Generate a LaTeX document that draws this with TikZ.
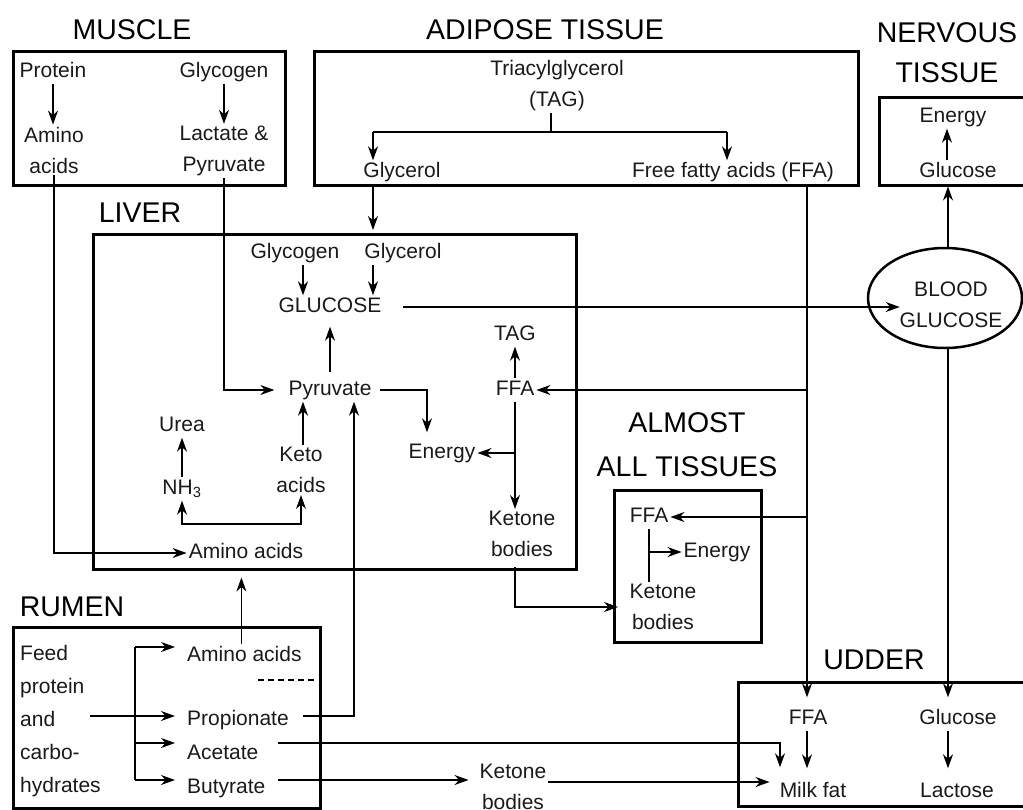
\documentclass[tikz,border=0pt]{standalone}
\usepackage{fontspec}
\setmainfont{Liberation Sans}
\usetikzlibrary{positioning,arrows.meta,calc,shapes.geometric}
\definecolor{ink}{HTML}{1A1A1A}
\tikzset{
  lbl/.style={font=\fontsize{21}{31}\selectfont, text=ink, inner sep=2pt, text height=15pt, text depth=4pt},
  lbl2/.style={font=\fontsize{21}{31}\selectfont, text=ink, inner sep=2pt, align=center},
  ttl/.style={font=\fontsize{28.5}{40}\selectfont, inner sep=0pt, align=center},
  box/.style={draw, line width=2.5pt, inner sep=0pt, anchor=north west},
  arr/.style={-{Stealth[length=14pt,width=10pt,inset=4.5pt]}, line width=1.2pt},
  arrs/.style={{Stealth[length=14pt,width=10pt,inset=4.5pt]}-{Stealth[length=14pt,width=10pt,inset=4.5pt]}, line width=1.2pt},
  ln/.style={line width=1.2pt}
}

\begin{document}
\begin{tikzpicture}[x=1pt,y=-1pt]
\useasboundingbox (0,0) rectangle (1023,809);

% titles
\node[ttl] (tMus) at (132,30) {MUSCLE};
\node[ttl] (tAdi) at (545,30) {ADIPOSE TISSUE};
\node[ttl] (tNer) at (947,53) {NERVOUS\\TISSUE};
\node[ttl] (tLiv) at (140,213) {LIVER};
\node[ttl] (tAlm) at (687,445) {ALMOST\\[4pt]ALL TISSUES};
\node[ttl] (tRum) at (72,607) {RUMEN};
\node[ttl] (tUdd) at (874,660) {UDDER};

% boxes
\node[box, minimum width=272pt, minimum height=134pt] (muscle) at (12,50) {};
\node[box, minimum width=544pt, minimum height=134pt] (adipose) at (313,50) {};
\node[box, minimum width=160pt, minimum height=88pt] (nervous) at (878,96) {};
\node[box, minimum width=483pt, minimum height=335pt] (liver) at (92,233) {};
\node[box, minimum width=147pt, minimum height=152pt] (almost) at (613,489) {};
\node[box, minimum width=307pt, minimum height=181pt] (rumen) at (12,626) {};
\node[box, minimum width=300pt, minimum height=124pt] (udder) at (737,681) {};
\node[draw, ellipse, line width=2.5pt, minimum width=154pt, minimum height=100pt] (blood) at (945,298) {};
\node[lbl2] (bloodT) at (951,305) {BLOOD\\GLUCOSE};
\coordinate (bx) at (948,298);

% muscle
\node[lbl] (mProt) at (53,72) {Protein};
\node[lbl2] (mAmino) at (54,150) {Amino\\acids};
\node[lbl] (mGlyc) at (224,72) {Glycogen};
\node[lbl2] (mLact) at (224,151) {Lactate \&\\Pyruvate};

% adipose tissue
\node[lbl2] (aTAG) at (557,86) {Triacylglycerol\\(TAG)};
\node[lbl] (aGly) at (402,172) {Glycerol};
\node[lbl] (aFFA) at (733,172) {Free fatty acids (FFA)};
\coordinate (split) at (551,132);
\coordinate (sl) at (373,132);
\coordinate (sr) at (727,132);
\coordinate (fv) at (807,184);

% nervous tissue
\node[lbl] (nEn) at (953,117) {Energy};
\node[lbl] (nGlu) at (958,172) {Glucose};

% liver
\node[lbl] (lGlyc) at (295,253) {Glycogen};
\node[lbl] (lGly) at (403,253) {Glycerol};
\node[lbl] (lGlu) at (330,307) {GLUCOSE};
\node[lbl] (lPyr) at (330,390) {Pyruvate};
\node[lbl] (lTAG) at (515,335) {TAG};
\node[lbl] (lFFA) at (515,390) {FFA};
\node[lbl] (lEn) at (442,453) {Energy};
\node[lbl2] (lKet) at (522,534) {Ketone\\bodies};
\node[lbl] (lUrea) at (182,426) {Urea};
\node[lbl] (lNH) at (182,489) {NH\textsubscript{3}};
\node[lbl2] (lKeto) at (301,470) {Keto\\acids};
\node[lbl] (lAmino) at (246,553) {Amino acids};
\coordinate (brk) at (240,524);

% almost all tissues
\node[lbl] (alFFA) at (649,517) {FFA};
\node[lbl] (alEn) at (717,552) {Energy};
\node[lbl2] (alKet) at (663,607) {Ketone\\bodies};

% udder
\node[lbl] (uFFA) at (808,719) {FFA};
\node[lbl] (uGlu) at (958,719) {Glucose};
\node[lbl] (uMilk) at (813,792) {Milk fat};
\node[lbl] (uLac) at (957,792) {Lactose};

% rumen
\node[lbl2, align=left, anchor=west, font=\fontsize{21}{33}\selectfont] (rFeed) at (18,721) {Feed\\protein\\and\\carbo-\\hydrates};
\node[lbl, anchor=west] (rAmino) at (185,656) {Amino acids};
\node[lbl, anchor=west] (rProp) at (185,720) {Propionate};
\node[lbl, anchor=west] (rAce) at (185,754) {Acetate};
\node[lbl, anchor=west] (rBut) at (185,788) {Butyrate};
\node[lbl2] (fKet) at (513,787) {Ketone\\bodies};
\coordinate (tr1) at (135,647);
\coordinate (tr3) at (135,743);
\coordinate (tr4) at (135,780);
\coordinate (fp) at (90,716);

% connectors
\draw[arr] (mProt) -- (mAmino.north -| mProt);
\draw[arr] (mGlyc) -- (mLact);
\draw[arr] (mAmino.south) |- (lAmino.west);
\draw[arr, shorten >=12pt] (mLact.south) |- (lPyr.west);

\draw[ln] (aTAG.south -| split) -- (split);
\draw[ln] (sl) -- (sr);
\draw[arr] (sl) -- (sl |- aGly.north);
\draw[arr] (sr) -- (sr |- aFFA.north);
\draw[arr, shorten >=3pt] (sl |- aGly.south) -- (sl |- liver.north);

\draw[arr] ($(lGlyc.south)+(8pt,0)$) coordinate (g1) -- (g1 |- lGlu.north);
\draw[arr] (sl |- lGly.south) -- (sl |- lGlu.north);
\draw[arr, shorten <=19pt] (lGlu.east) -- ($(lGlu.east -| blood.west)+(33pt,0)$);
\draw[arr, shorten <=6pt, shorten >=8pt] (lPyr) -- (lGlu);
\draw[arr, shorten <=6pt, shorten >=9pt] (lPyr.east) -| ($(lEn.north)+(-15pt,0)$);
\draw[arr] (lFFA) -- (lTAG);
\draw[arr] (lFFA.south) -- (lFFA.south |- lKet.north);
\draw[arr] (lFFA.south |- lEn) -- (lEn);
\draw[arr] (lNH) -- (lUrea);
\draw[arr] ($(lKeto.north)+(2pt,0)$) coordinate (k1) -- (k1 |- lPyr.south);
\draw[arrs] (lNH.south) |- (brk) -| (lKeto.south);
\draw[arr, shorten <=8pt] ($(lKet.south)+(-7pt,0)$) |- ($(alKet.west -| almost.west)+(5pt,0)$);

\draw[arr, shorten >=10pt] (fv) -- (fv |- uFFA.north);
\draw[arr] (fv |- lFFA) -- (lFFA);
\draw[arr] (fv |- alFFA) -- (alFFA);

\draw[arr] ($(nGlu.north)+(-11pt,0)$) coordinate (n1) -- (n1 |- nEn.south);
\draw[arr] (bx |- blood.north) -- (bx |- nervous.south);
\draw[arr, shorten >=10pt] (bx |- blood.south) -- (bx |- uGlu.north);
\draw[arr, shorten >=12pt] (bx |- uGlu.south) -- (bx |- uLac.north);
\draw[arr, shorten >=12pt] (fv |- uFFA.south) -- (fv |- uMilk.north);

\draw[ln] (alFFA.south) -- (alFFA.south |- alKet.north);
\draw[arr] (alFFA.south |- alEn) -- (alEn);

\draw[ln] (tr1) -- (tr4);
\draw[arr, shorten >=10pt] (tr1) -- (tr1 -| rAmino.west);
\draw[arr, shorten >=10pt] (tr3) -- (tr3 -| rAce.west);
\draw[arr, shorten >=10pt] (tr4) -- (tr4 -| rBut.west);
\draw[arr, shorten >=10pt] (fp) -- (fp -| rProp.west);
\draw[ln, dash pattern=on 6pt off 4pt] (258,680) -- (317,680);
\draw[arr, shorten >=7pt] ($(rAmino.north)+(-3pt,0)$) coordinate (r1) -- (r1 |- liver.south);
\draw[arr, shorten <=12pt] ($(rProp.east)+(0,4pt)$) -| ($(lPyr.south)+(24pt,0)$);
\draw[arr, shorten <=17pt, shorten >=13pt] ($(rAce.east)+(0,11pt)$) -| ($(uMilk.north)+(-33pt,0)$);
\draw[arr, shorten <=10pt, shorten >=9pt] ($(rBut.east)+(0,8pt)$) -- (tr4 -| fKet.west);
\draw[arr, shorten >=8pt] ($(fKet.east)+(0,5pt)$) -- ($(uMilk.west)+(0,10pt)$);
\end{tikzpicture}
\end{document}
